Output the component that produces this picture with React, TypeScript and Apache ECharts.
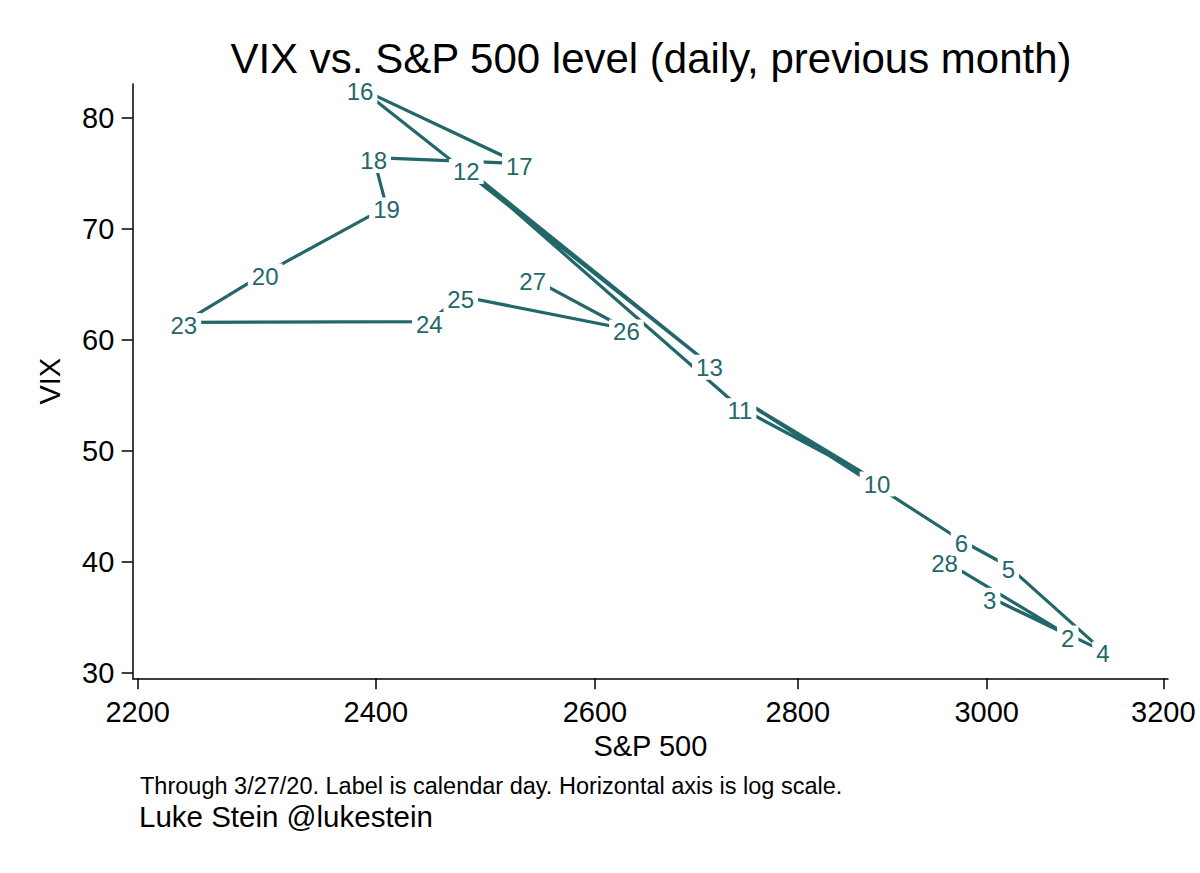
import React, { useEffect, useRef } from "react";
import * as echarts from "echarts";

// Calendar day of each trading day (28 = Feb 28, then March 2020)
const days = ["28", "2", "3", "4", "5", "6", "9", "10", "11", "12", "13", "16", "17", "18", "19", "20", "23", "24", "25", "26", "27"];
// S&P 500 close
const spx = [2954.22, 3090.23, 3003.37, 3130.12, 3023.94, 2972.37, 2746.56, 2882.23, 2741.38, 2480.64, 2711.02, 2386.13, 2529.19, 2398.1, 2409.39, 2304.92, 2237.4, 2447.33, 2475.56, 2630.07, 2541.47];
// VIX close
const vix = [40.11, 33.42, 36.82, 31.99, 39.62, 41.94, 54.46, 47.3, 53.9, 75.47, 57.83, 82.69, 75.91, 76.45, 72.0, 66.04, 61.59, 61.67, 63.95, 61.0, 65.54];
// labels hidden in the original (covered by the label of day 11)
const hiddenLabels = ["9"];

const xTicks = [2200, 2400, 2600, 2800, 3000, 3200];
const yTicks = [30, 40, 50, 60, 70, 80];

const titleText = "VIX vs. S&P 500 level (daily, previous month)";
const noteText = "Through 3/27/20. Label is calendar day. Horizontal axis is log scale.";
const authorText = "Luke Stein @lukestein";

const TEAL = "#24676a";
const FONT = "'Liberation Sans', Arial, Helvetica, sans-serif";

export default function App() {
  const ref = useRef<HTMLDivElement>(null);

  useEffect(() => {
    if (!ref.current) return;
    const chart = echarts.init(ref.current, undefined, { renderer: "svg" });
    const pairs = spx.map((x, i) => [x, vix[i]]);
    chart.setOption({
      animation: false,
      backgroundColor: "#ffffff",
      grid: {
        left: 132.7,
        right: 32,
        top: 84,
        bottom: 194.7,
        containLabel: false,
        outerBoundsMode: "none",
      },
      xAxis: {
        type: "log",
        logBase: 10,
        min: 2196,
        max: 3205.5,
        name: "S&P 500",
        nameLocation: "middle",
        nameGap: 51,
        nameTextStyle: { fontSize: 29, color: "#000", fontFamily: FONT },
        axisLine: { show: true, lineStyle: { color: "#000", width: 1.5 } },
        axisTick: { show: true, length: 11, customValues: xTicks, lineStyle: { color: "#000", width: 1.5 } },
        minorTick: { show: false },
        splitLine: { show: false },
        axisLabel: {
          customValues: xTicks,
          margin: 19,
          fontSize: 29,
          color: "#000",
          fontFamily: FONT,
          formatter: (v: number) => String(Math.round(v)),
        },
      },
      yAxis: {
        type: "value",
        min: 29.52,
        max: 83.08,
        name: "VIX",
        nameLocation: "middle",
        nameGap: 68,
        nameTextStyle: { fontSize: 29, color: "#000", fontFamily: FONT },
        axisLine: { show: true, lineStyle: { color: "#000", width: 1.5 } },
        axisTick: { show: true, length: 11, customValues: yTicks, lineStyle: { color: "#000", width: 1.5 } },
        splitLine: { show: false },
        axisLabel: {
          customValues: yTicks,
          margin: 18.4,
          fontSize: 29,
          color: "#000",
          fontFamily: FONT,
          formatter: (v: number) => String(Math.round(v)),
        },
      },
      series: [
        {
          type: "line",
          data: pairs,
          symbol: "none",
          showSymbol: false,
          silent: true,
          z: 2,
          lineStyle: { color: TEAL, width: 3.2, opacity: 1 },
        },
        {
          type: "scatter",
          z: 3,
          silent: true,
          symbol: "circle",
          symbolSize: 1,
          itemStyle: { color: "#ffffff", opacity: 1 },
          data: pairs.map((p, i) => ({
            value: p,
            name: days[i],
            label: { show: !hiddenLabels.includes(days[i]) },
          })),
          label: {
            show: true,
            position: "inside",
            offset: [0, 3],
            formatter: (p: any) => p.name,
            color: TEAL,
            opacity: 1,
            fontSize: 24,
            fontFamily: FONT,
            backgroundColor: "#ffffff",
            padding: [1, 4, 0, 4],
          },
        },
      ],
      graphic: [
        {
          type: "text",
          x: 651,
          y: 58.2,
          style: {
            text: titleText,
            fill: "#000",
            font: `42px ${FONT}`,
            lineHeight: 30,
            textAlign: "center",
            textVerticalAlign: "middle",
          },
        },
        {
          type: "text",
          x: 140,
          y: 774,
          style: {
            text: noteText,
            fill: "#000",
            font: `23.5px ${FONT}`,
            textAlign: "left",
            textVerticalAlign: "top",
          },
        },
        {
          type: "text",
          x: 139,
          y: 801.5,
          style: {
            text: authorText,
            fill: "#000",
            font: `29.5px ${FONT}`,
            textAlign: "left",
            textVerticalAlign: "top",
          },
        },
      ],
    });
    return () => chart.dispose();
  }, []);

  return (
    <div
      ref={ref}
      style={{ position: "fixed", left: 0, top: 0, width: 1200, height: 873, background: "#fff" }}
    />
  );
}
